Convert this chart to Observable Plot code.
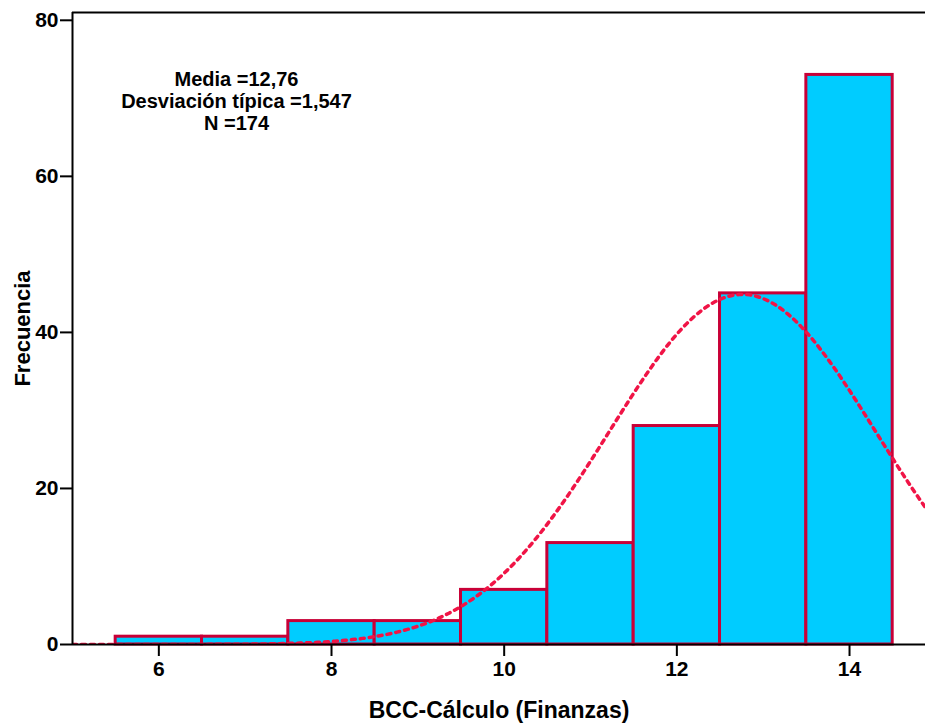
<!DOCTYPE html>
<html>
<head>
<meta charset="utf-8">
<script src="https://cdn.jsdelivr.net/npm/d3@7"></script>
<script src="https://cdn.jsdelivr.net/npm/@observablehq/plot@0.6"></script>
<style>
  html, body { margin: 0; padding: 0; background: #fff; overflow: hidden; }
</style>
</head>
<body>
<div id="chart"></div>
<script>
// Histogram bins (centers) and frequencies
const binCenters = [6, 7, 8, 9, 10, 11, 12, 13, 14];
const frequencies = [1, 1, 3, 3, 7, 13, 28, 45, 73];
const binWidth = 1;

// Summary statistics shown on the chart
const mean = 12.76;
const stdDev = 1.547;
const n = 174;
const statsLines = ["Media =12,76", "Desviación típica =1,547", "N =174"];

// Axis ticks and labels
const xTicks = [6, 8, 10, 12, 14];
const yTicks = [0, 20, 40, 60, 80];
const xDomain = [5, 14.88];
const yDomain = [0, 81];
const xLabel = "BCC-Cálculo (Finanzas)";
const yLabel = "Frecuencia";

const bars = binCenters.map((c, i) => ({x1: c - binWidth / 2, x2: c + binWidth / 2, count: frequencies[i]}));

// Fitted normal curve from the displayed statistics (scaled to counts)
const curve = d3.range(xDomain[0], 15.01, 0.04).map(x => ({
  x,
  y: n * binWidth * Math.exp(-0.5 * ((x - mean) / stdDev) ** 2) / (stdDev * Math.sqrt(2 * Math.PI))
}));

const chart = Plot.plot({
  width: 925,
  height: 725,
  marginLeft: 72,
  marginRight: 0,
  marginTop: 12,
  marginBottom: 81,
  style: {fontFamily: "'Liberation Sans', Arial, sans-serif", fontWeight: "bold", fontSize: "21px", color: "#000", background: "#fff"},
  x: {domain: xDomain},
  y: {domain: yDomain},
  marks: [
    Plot.rectY(bars, {x1: "x1", x2: "x2", y: "count", fill: "#00CCFF", stroke: "#C80037", strokeWidth: 3, inset: 0}),
    Plot.line(curve, {x: "x", y: "y", stroke: "#F01446", strokeWidth: 3.5, strokeDasharray: "4,5", clip: true}),
    Plot.ruleY([yDomain[0]], {stroke: "#000", strokeWidth: 2}),
    Plot.ruleY([yDomain[1]], {stroke: "#000", strokeWidth: 2}),
    Plot.ruleX([xDomain[0]], {stroke: "#000", strokeWidth: 2}),
    Plot.axisX({ticks: xTicks, tickSize: 12, tickPadding: 5, label: null, stroke: "#000", strokeWidth: 2, fontSize: 21, fontWeight: "bold"}),
    Plot.axisY({ticks: yTicks, tickSize: 12, tickPadding: 2, label: null, stroke: "#000", strokeWidth: 2, fontSize: 21, fontWeight: "bold"}),
    Plot.text([statsLines.join("\n")], {frameAnchor: "top-left", dx: 164, dy: 58, text: d => d, textAnchor: "middle", lineAnchor: "top", lineHeight: 1.1, fontSize: 20, fontWeight: "bold", fill: "#000"}),
    Plot.text([xLabel], {frameAnchor: "bottom", dy: 66, text: d => d, textAnchor: "middle", lineAnchor: "middle", fontSize: 23, fontWeight: "bold", fill: "#000"}),
    Plot.text([yLabel], {frameAnchor: "left", dx: -50, rotate: -90, text: d => d, textAnchor: "middle", lineAnchor: "middle", fontSize: 22, fontWeight: "bold", fill: "#000"})
  ]
});
document.getElementById("chart").appendChild(chart);
</script>
</body>
</html>
